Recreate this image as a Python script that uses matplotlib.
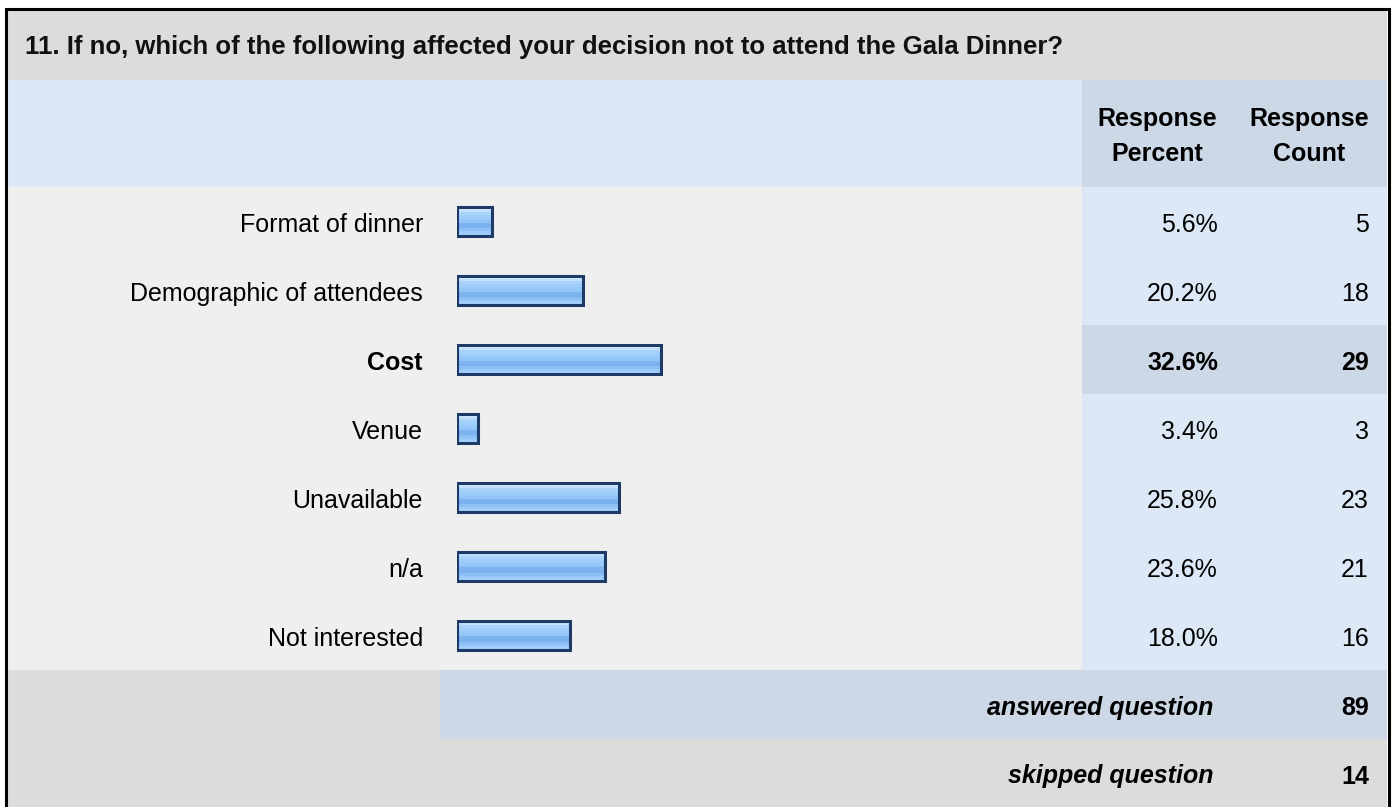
import matplotlib
matplotlib.use("Agg")
import matplotlib.pyplot as plt
from matplotlib.patches import Rectangle
from matplotlib.colors import to_rgb
import numpy as np

plt.rcParams['font.family'] = ['Liberation Sans', 'DejaVu Sans']

title = "11. If no, which of the following affected your decision not to attend the Gala Dinner?"
categories = ["Format of dinner", "Demographic of attendees", "Cost", "Venue",
              "Unavailable", "n/a", "Not interested"]
percents = [5.6, 20.2, 32.6, 3.4, 25.8, 23.6, 18.0]
counts = [5, 18, 29, 3, 23, 21, 16]
highlight = "Cost"
col_headers = ["Response\nPercent", "Response\nCount"]
answered = 89
skipped = 14

W, H = 1394, 807
fig = plt.figure(figsize=(W / 100, H / 100), dpi=100)
fig.patch.set_facecolor("white")

# layout axes in pixel coordinates
ax = fig.add_axes([0, 0, 1, 1])
ax.set_xlim(0, W)
ax.set_ylim(H, 0)
ax.axis("off")

C_GRAY = "#DCDCDC"
C_LIGHT = "#DCE8F5"
C_DARK = "#CCD8E6"
C_ROW = "#EFEFEF"

L, R = 7, 1387
x_pct, x_cnt = 1082, 1232
y_title, y_head, y_rows = 10, 80, 187
row_h = 69
n = len(categories)
y_ans = y_rows + n * row_h
y_skip = y_ans + row_h

def rect(x0, y0, x1, y1, c):
    ax.add_patch(Rectangle((x0, y0), x1 - x0, y1 - y0, facecolor=c, edgecolor="none", zorder=1))

rect(L, y_title, R, y_head, C_GRAY)
rect(L, y_head, x_pct, y_rows, C_LIGHT)
rect(x_pct, y_head, R, y_rows, C_DARK)
rect(L, y_rows, x_pct, y_ans, C_ROW)
rect(x_pct, y_rows, R, y_ans, C_LIGHT)
for i, c in enumerate(categories):
    if c == highlight:
        rect(x_pct, y_rows + i * row_h, R, y_rows + (i + 1) * row_h, C_DARK)
rect(L, y_ans, 440, y_skip, C_GRAY)
rect(440, y_ans, R, y_skip, C_DARK)
rect(L, y_skip, R, H, C_GRAY)

# outer border
ax.plot([6, 6, 1388.5, 1388.5], [H, 9, 9, H], color="black", lw=2.2, zorder=5,
        solid_joinstyle="miter")

fs = 18
ax.text(25, 47, title, fontsize=18.5, fontweight="bold",
        ha="left", va="center", color="#111111", zorder=3)
ax.text((x_pct + x_cnt) / 2, (y_head + y_rows) / 2 + 3, col_headers[0], fontsize=fs,
        fontweight="bold", ha="center", va="center", linespacing=1.55, zorder=3)
ax.text((x_cnt + R) / 2, (y_head + y_rows) / 2 + 3, col_headers[1], fontsize=fs,
        fontweight="bold", ha="center", va="center", linespacing=1.55, zorder=3)

for i, (c, p, k) in enumerate(zip(categories, percents, counts)):
    yc = y_rows + (i + 0.5) * row_h + 3.5
    w = "bold" if c == highlight else "normal"
    ax.text(423, yc, c, fontsize=fs, fontweight=w, ha="right", va="center", zorder=3)
    ax.text(1218, yc, f"{p:.1f}%", fontsize=fs, fontweight=w, ha="right", va="center", zorder=3)
    ax.text(1369, yc, f"{k}", fontsize=fs, fontweight=w, ha="right", va="center", zorder=3)

ax.text(1213, (y_ans + y_skip) / 2 + 3.5, "answered question", fontsize=fs, fontweight="bold",
        fontstyle="italic", ha="right", va="center", zorder=3)
ax.text(1369, (y_ans + y_skip) / 2 + 3.5, f"{answered}", fontsize=fs, fontweight="bold",
        ha="right", va="center", zorder=3)
ax.text(1213, (y_skip + H) / 2 + 3.5, "skipped question", fontsize=fs, fontweight="bold",
        fontstyle="italic", ha="right", va="center", zorder=3)
ax.text(1369, (y_skip + H) / 2 + 3.5, f"{skipped}", fontsize=fs, fontweight="bold",
        ha="right", va="center", zorder=3)

# bar axes: 0..100 % spanning pixel x 457..1083
bx0, bx1 = 457, 1083
bax = fig.add_axes([bx0 / W, 1 - y_ans / H, (bx1 - bx0) / W, (y_ans - y_rows) / H])
bax.set_xlim(0, 100)
bax.set_ylim(n - 0.5, -0.5)
bax.axis("off")
bax.patch.set_alpha(0)

grad_cols = ["#D2E9FE", "#C0E0FD", "#AAD3FC", "#A0CEFB", "#98C9FA", "#93C5F9",
             "#7DB4F0", "#7AB1EE", "#8CC0F5", "#9BCAFA", "#A2CFFB"]
grad = np.array([to_rgb(c) for c in grad_cols])[:, None, :]
bh = 29 / row_h
ypos = np.arange(n)
bars = bax.barh(ypos, percents, height=bh, color="none", edgecolor="#1E3A66",
                linewidth=2.2, zorder=4)
for b in bars:
    x0, y0 = b.get_x(), b.get_y()
    bax.imshow(grad, extent=(x0, x0 + b.get_width(), y0 + bh, y0), aspect="auto",
               interpolation="nearest", zorder=3)
bax.set_xlim(0, 100)
bax.set_ylim(n - 0.5, -0.5)

fig.savefig("out.png", dpi=100, facecolor="white")
